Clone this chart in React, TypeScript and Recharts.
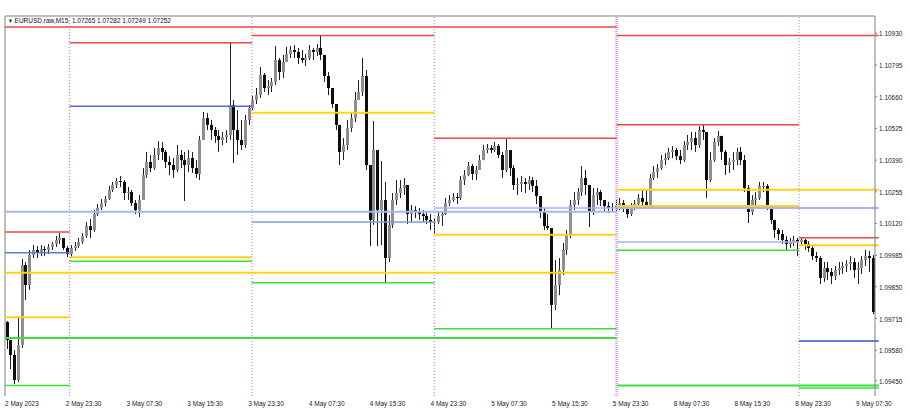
import React from "react";
import { ComposedChart, Bar, XAxis, YAxis, ReferenceLine } from "recharts";

// EURUSD, drawn as 30-minute candles from 2 May 15:30 to 9 May 10:30
const firstOpen = 1.097;

const closes = [
  // 2 May
  1.09624, 1.0956, 1.09453, 1.09602, 1.09943, 1.09858, 1.09986, 1.10007, 1.09998, 1.10011, 1.10007, 1.1002, 1.10033, 1.1005, 1.10058, 1.10016, 1.0999,
  // 3 May
  1.10016, 1.10024, 1.10041, 1.10067, 1.10109, 1.10092, 1.1016, 1.10186, 1.10207, 1.10224, 1.10263, 1.10284, 1.10301, 1.10297, 1.1025, 1.10254,
  1.10207, 1.10177, 1.1022, 1.10326, 1.10382, 1.10356, 1.10412, 1.10442, 1.10425, 1.10382, 1.10369, 1.10348, 1.10412, 1.1039, 1.10369, 1.10399,
  1.10356, 1.10331, 1.10476, 1.10569, 1.1054, 1.10518, 1.10493, 1.10476, 1.10488, 1.10497, 1.10625, 1.10518, 1.10476, 1.10454, 1.10561, 1.10612,
  // 4 May
  1.10646, 1.10667, 1.10753, 1.10697, 1.10706, 1.10723, 1.10816, 1.10765, 1.10808, 1.10842, 1.10859, 1.10851, 1.10825, 1.10816, 1.10825, 1.10859,
  1.10851, 1.10868, 1.10838, 1.10748, 1.10697, 1.10629, 1.1054, 1.10425, 1.10454, 1.10527, 1.10569, 1.10646, 1.1068, 1.10748, 1.10369, 1.10135,
  1.10433, 1.10177, 1.1022, 1.09973, 1.10114, 1.1022, 1.1025, 1.10271, 1.10284, 1.1016, 1.10177, 1.10169, 1.1016, 1.10152, 1.10135, 1.10126,
  // 5 May
  1.10126, 1.10152, 1.1016, 1.10207, 1.1022, 1.10233, 1.10229, 1.10305, 1.10326, 1.10365, 1.10331, 1.10348, 1.1039, 1.10433, 1.10442, 1.10433,
  1.1045, 1.10412, 1.10348, 1.10433, 1.10356, 1.10284, 1.10288, 1.10297, 1.10288, 1.10305, 1.1028, 1.10237, 1.10169, 1.10109, 1.10101, 1.09773,
  1.09858, 1.09922, 1.10007, 1.10071, 1.10199, 1.1022, 1.10254, 1.10314, 1.10284, 1.10169, 1.10241, 1.10254, 1.1022, 1.10194, 1.10186, 1.1019,
  // 8 May
  1.10199, 1.10207, 1.10186, 1.1016, 1.1019, 1.10203, 1.10229, 1.10212, 1.10199, 1.10314, 1.10339, 1.10356, 1.1039, 1.10399, 1.10425, 1.10433,
  1.10407, 1.1039, 1.10454, 1.10467, 1.10484, 1.10454, 1.10518, 1.1051, 1.10305, 1.1039, 1.10467, 1.10493, 1.10425, 1.10369, 1.10382, 1.1039,
  1.10425, 1.1039, 1.10271, 1.10169, 1.1022, 1.10229, 1.1028, 1.1028, 1.10194, 1.10135, 1.10092, 1.10075, 1.1005, 1.10033, 1.10041, 1.1005,
  // 9 May
  1.10041, 1.1005, 1.10033, 1.10016, 1.09981, 1.09973, 1.09888, 1.0993, 1.09913, 1.09896, 1.09922, 1.0993, 1.09939, 1.09947, 1.09956, 1.09922,
  1.0993, 1.09964, 1.09981, 1.09973, 1.09743,
];

const highs = [
  1.09704, 1.09624, 1.09581, 1.09722, 1.09969, 1.09956, 1.10007, 1.10028, 1.10024, 1.10028, 1.10024, 1.10033, 1.10041, 1.10067, 1.10079, 1.10058, 1.10024,
  1.10028, 1.10041, 1.10058, 1.10079, 1.10126, 1.10139, 1.10177, 1.10203, 1.10224, 1.10237, 1.1028, 1.10297, 1.10314, 1.10322, 1.10305, 1.10275,
  1.10263, 1.1022, 1.10241, 1.10356, 1.10425, 1.10412, 1.10442, 1.10471, 1.10467, 1.10433, 1.10407, 1.10399, 1.10454, 1.10433, 1.10425, 1.10433,
  1.10425, 1.1039, 1.10493, 1.10595, 1.10591, 1.10561, 1.10531, 1.10518, 1.1051, 1.10518, 1.10889, 1.10646, 1.10603, 1.10561, 1.10582, 1.10625,
  1.10663, 1.10697, 1.10787, 1.10761, 1.10731, 1.1074, 1.10876, 1.10825, 1.10838, 1.10872, 1.10876, 1.1088, 1.10868, 1.10859, 1.10842, 1.1088,
  1.10868, 1.10885, 1.10919, 1.10838, 1.10765, 1.10697, 1.10629, 1.1054, 1.10484, 1.10561, 1.10595, 1.1068, 1.10731, 1.10825, 1.10774, 1.10369,
  1.10557, 1.10433, 1.10386, 1.10297, 1.10156, 1.1025, 1.10305, 1.10305, 1.10314, 1.10284, 1.10199, 1.10194, 1.10186, 1.10177, 1.10169, 1.1016,
  1.10143, 1.10169, 1.10169, 1.10229, 1.10241, 1.1025, 1.1025, 1.10322, 1.10348, 1.10382, 1.10373, 1.10365, 1.10412, 1.10454, 1.10459, 1.10454,
  1.10467, 1.10459, 1.10425, 1.1048, 1.10433, 1.10369, 1.10314, 1.10322, 1.10314, 1.10322, 1.10318, 1.10305, 1.10237, 1.10186, 1.1016, 1.10101,
  1.09964, 1.09973, 1.10037, 1.10092, 1.1022, 1.10254, 1.10271, 1.10365, 1.10348, 1.10284, 1.10271, 1.10271, 1.10263, 1.1022, 1.10212, 1.10207,
  1.1022, 1.10229, 1.1022, 1.10199, 1.10207, 1.1022, 1.10246, 1.10263, 1.10263, 1.10331, 1.10365, 1.10373, 1.10412, 1.1042, 1.10442, 1.1045,
  1.10442, 1.10433, 1.10471, 1.10497, 1.1051, 1.1051, 1.10535, 1.10544, 1.1051, 1.10425, 1.10484, 1.10514, 1.10493, 1.10433, 1.10399, 1.10425,
  1.10442, 1.10446, 1.10412, 1.10284, 1.10241, 1.10254, 1.10297, 1.10297, 1.10288, 1.10199, 1.10135, 1.10101, 1.10092, 1.10067, 1.10058, 1.10067,
  1.10058, 1.10062, 1.10054, 1.10045, 1.10024, 1.09999, 1.09981, 1.09956, 1.09956, 1.0993, 1.09939, 1.09956, 1.09956, 1.09964, 1.09981, 1.09973,
  1.09956, 1.09981, 1.10007, 1.10003, 1.09986,
];

const lows = [
  1.09585, 1.095, 1.09436, 1.09445, 1.0959, 1.09794, 1.09837, 1.09973, 1.09973, 1.09981, 1.09981, 1.0999, 1.10007, 1.1002, 1.10033, 1.10007, 1.09977,
  1.09977, 1.10003, 1.10016, 1.10033, 1.10058, 1.10058, 1.10084, 1.10152, 1.10177, 1.10194, 1.1022, 1.10254, 1.10271, 1.10275, 1.1022, 1.1022,
  1.10194, 1.1016, 1.10148, 1.1022, 1.10314, 1.10339, 1.10348, 1.1039, 1.1039, 1.10356, 1.10326, 1.10314, 1.10339, 1.10356, 1.10216, 1.10339,
  1.10335, 1.10314, 1.10305, 1.10476, 1.10518, 1.10476, 1.10463, 1.10425, 1.10454, 1.10463, 1.10476, 1.10378, 1.10412, 1.10433, 1.10442, 1.1054,
  1.10603, 1.10629, 1.10655, 1.1068, 1.10667, 1.1068, 1.1071, 1.10731, 1.1074, 1.10808, 1.10825, 1.10825, 1.10799, 1.10804, 1.10791, 1.10816,
  1.10816, 1.10833, 1.10816, 1.10723, 1.10667, 1.10612, 1.10518, 1.10369, 1.1039, 1.10433, 1.1051, 1.10552, 1.10646, 1.10663, 1.10348, 1.10024,
  1.10114, 1.10024, 1.10028, 1.09866, 1.09956, 1.10101, 1.10199, 1.10229, 1.10241, 1.10118, 1.10126, 1.10143, 1.10135, 1.10126, 1.10118, 1.10092,
  1.10075, 1.10118, 1.10109, 1.10156, 1.10194, 1.10212, 1.10203, 1.1022, 1.10284, 1.10322, 1.10305, 1.10305, 1.10348, 1.1039, 1.1042, 1.1042,
  1.10425, 1.10399, 1.10314, 1.10339, 1.10322, 1.10263, 1.10241, 1.10254, 1.1025, 1.10263, 1.10254, 1.10203, 1.10143, 1.10092, 1.10092, 1.09675,
  1.09751, 1.09815, 1.099, 1.09986, 1.10058, 1.10177, 1.10199, 1.10237, 1.10241, 1.10105, 1.10156, 1.10199, 1.10194, 1.10169, 1.10165, 1.10169,
  1.10173, 1.10177, 1.10169, 1.10143, 1.10152, 1.10177, 1.10186, 1.10186, 1.10182, 1.10194, 1.10305, 1.10314, 1.10348, 1.10369, 1.1039, 1.10399,
  1.1039, 1.10373, 1.10382, 1.10433, 1.10433, 1.10425, 1.10442, 1.10476, 1.10229, 1.10297, 1.10382, 1.1045, 1.1039, 1.10326, 1.10335, 1.10348,
  1.10369, 1.10369, 1.10254, 1.10122, 1.10156, 1.10186, 1.1022, 1.10254, 1.10177, 1.10118, 1.10058, 1.1005, 1.10033, 1.10007, 1.10016, 1.10024,
  1.09981, 1.10024, 1.10007, 1.09999, 1.09964, 1.09956, 1.09862, 1.09871, 1.09879, 1.09862, 1.09879, 1.099, 1.09905, 1.09913, 1.09922, 1.09888,
  1.09862, 1.09905, 1.09939, 1.09913, 1.09734,
];

// daily and weekly levels, bars where each period begins/ends
const dayBreaks = [0, 17, 65, 113, 161, 209, 230];
const dayRed = [1.10084, 1.1089, 1.10921, 1.10483, 1.10541, 1.10059];
const dayBlue = [1.09995, 1.10619, 1.10126, 1.10186, 1.10041, 1.09619];
const dayYellow = [1.09721, 1.09976, 1.10592, 1.10072, 1.10194, 1.10027];
const dayGreen = [1.0943, 1.09959, 1.09868, 1.09672, 1.10006, 1.09419];

const weekBreaks = [0, 161, 230];
const weekRed = [1.10957, 1.10921];
const weekBlue = [1.1017, 1.10186];
const weekYellow = [1.0991, 1.10264];
const weekGreen = [1.09632, 1.0943];

const xTickBars = [0, 16, 32, 48, 64, 80, 96, 112, 128, 144, 160, 176, 192, 208, 224];
const xTickLabels = [
  "2 May 2023", "2 May 23:30", "3 May 07:30", "3 May 15:30", "3 May 23:30", "4 May 07:30", "4 May 15:30", "4 May 23:30",
  "5 May 07:30", "5 May 15:30", "5 May 23:30", "8 May 07:30", "8 May 15:30", "8 May 23:30", "9 May 07:30",
];
const yTicks = [1.1093, 1.10795, 1.1066, 1.10525, 1.1039, 1.10255, 1.1012, 1.09985, 1.0985, 1.09715, 1.0958, 1.0945];
const yMin = 1.09385;
const yMax = 1.11004;

const data = closes.map((c, i) => {
  const o = i === 0 ? firstOpen : closes[i - 1];
  const h = Math.max(highs[i], o, c);
  const l = Math.min(lows[i], o, c);
  return { i, o, h, l, c, range: [l, h] };
});

const FONT = "'Liberation Sans', Arial, sans-serif";
const SQUEEZE = 0.81; // terminal font is narrower than Liberation Sans
const RED = "#f04646";
const LIGHT_BLUE = "#a3b7f0";
const YELLOW = "#ffd21a";
const GREEN = "#3ae03a";
// the daily blue lines are not all the same shade
const dayBlueColors = ["#5a78e0", "#4a6ae0", "#7f9ae8", "#a3b7f0", "#a3b7f0", "#3552c8"];

function Candle(props: any) {
  const { x, y, width, height, payload } = props;
  if (!payload) return null;
  const { o, h, l, c } = payload;
  const span = h - l || 1e-9;
  const py = (v: number) => y + ((h - v) / span) * height;
  const cx = Math.floor(x + width / 2);
  const top = py(Math.max(o, c));
  const bot = py(Math.min(o, c));
  const bull = c >= o;
  return (
    <g>
      <line x1={cx + 0.5} x2={cx + 0.5} y1={y} y2={y + height} stroke="#1e1e1e" strokeWidth={1} />
      <rect x={cx - 1} y={top} width={3} height={Math.max(bot - top, 1)} fill={bull ? "#8e8e8e" : "#0d0d0d"} />
    </g>
  );
}

function XTick(props: any) {
  const { x, payload } = props;
  const idx = xTickBars.indexOf(payload.value);
  return (
    <text
      transform={`translate(${x},405.5) scale(${SQUEEZE},1)`}
      fontSize={8}
      fontFamily={FONT}
      fill="#222"
      textAnchor="start"
    >
      {xTickLabels[idx]}
    </text>
  );
}

function YTick(props: any) {
  const { y, payload } = props;
  return (
    <text
      transform={`translate(879,${y + 3}) scale(${SQUEEZE},1)`}
      fontSize={8}
      fontFamily={FONT}
      fill="#222"
      textAnchor="start"
    >
      {payload.value.toFixed(5)}
    </text>
  );
}

function levelLines(
  breaks: number[],
  values: number[],
  color: string | string[],
  width: number,
  key: string
) {
  return values.map((v, k) => (
    <ReferenceLine
      key={key + k}
      xAxisId="t"
      segment={[{ x: breaks[k], y: v }, { x: breaks[k + 1], y: v }]}
      stroke={Array.isArray(color) ? color[k] : color}
      strokeWidth={width}
      ifOverflow="visible"
    />
  ));
}

export default function App() {
  return (
    <div style={{ position: "absolute", left: 0, top: 0, width: 910, height: 415, background: "#fff" }}>
      <ComposedChart
        width={910}
        height={415}
        data={data}
        margin={{ top: 16, right: 0, bottom: 0, left: 5 }}
        barCategoryGap={0}
      >
        <XAxis xAxisId="c" dataKey="i" type="category" hide />
        <XAxis
          xAxisId="t"
          type="number"
          domain={[0, 230]}
          ticks={xTickBars}
          allowDataOverflow
          height={19}
          stroke="#808080"
          tickSize={3}
          tick={<XTick />}
        />
        <YAxis
          orientation="right"
          width={35}
          domain={[yMin, yMax]}
          ticks={yTicks}
          allowDataOverflow
          stroke="#808080"
          tickSize={2}
          tick={<YTick />}
        />
        <ReferenceLine xAxisId="t" y={yMax} stroke="#808080" ifOverflow="visible" />
        <ReferenceLine xAxisId="t" x={0} stroke="#808080" ifOverflow="visible" />

        {weekBreaks.slice(1, -1).map((b) => (
          <ReferenceLine key={"w" + b} xAxisId="t" x={b} stroke="#dca6f4" strokeWidth={3} strokeDasharray="1 1" />
        ))}
        {dayBreaks.slice(1, -1).filter((b) => !weekBreaks.includes(b)).map((b) => (
          <ReferenceLine key={"d" + b} xAxisId="t" x={b} stroke="#c46ae6" strokeDasharray="1 2" />
        ))}

        <Bar xAxisId="c" dataKey="range" isAnimationActive={false} shape={<Candle />} />

        {levelLines(weekBreaks, weekRed, RED, 1.5, "wr")}
        {levelLines(weekBreaks, weekBlue, LIGHT_BLUE, 2, "wb")}
        {levelLines(weekBreaks, weekYellow, YELLOW, 2, "wy")}
        {levelLines(weekBreaks, weekGreen, GREEN, 2, "wg")}
        {levelLines(dayBreaks, dayRed, RED, 1.5, "dr")}
        {levelLines(dayBreaks, dayBlue, dayBlueColors, 1.5, "db")}
        {levelLines(dayBreaks, dayYellow, YELLOW, 2, "dy")}
        {levelLines(dayBreaks, dayGreen, GREEN, 1.5, "dg")}
      </ComposedChart>
      <div
        style={{
          position: "absolute",
          left: 8,
          top: 16,
          fontFamily: FONT,
          fontSize: 8,
          lineHeight: "10px",
          color: "#111",
          whiteSpace: "pre",
          transform: `scaleX(${SQUEEZE})`,
          transformOrigin: "0 0",
        }}
      >
        <span style={{ fontSize: 6 }}>▼</span> EURUSD.raw,M15  1.07265 1.07282 1.07249 1.07252
      </div>
    </div>
  );
}
